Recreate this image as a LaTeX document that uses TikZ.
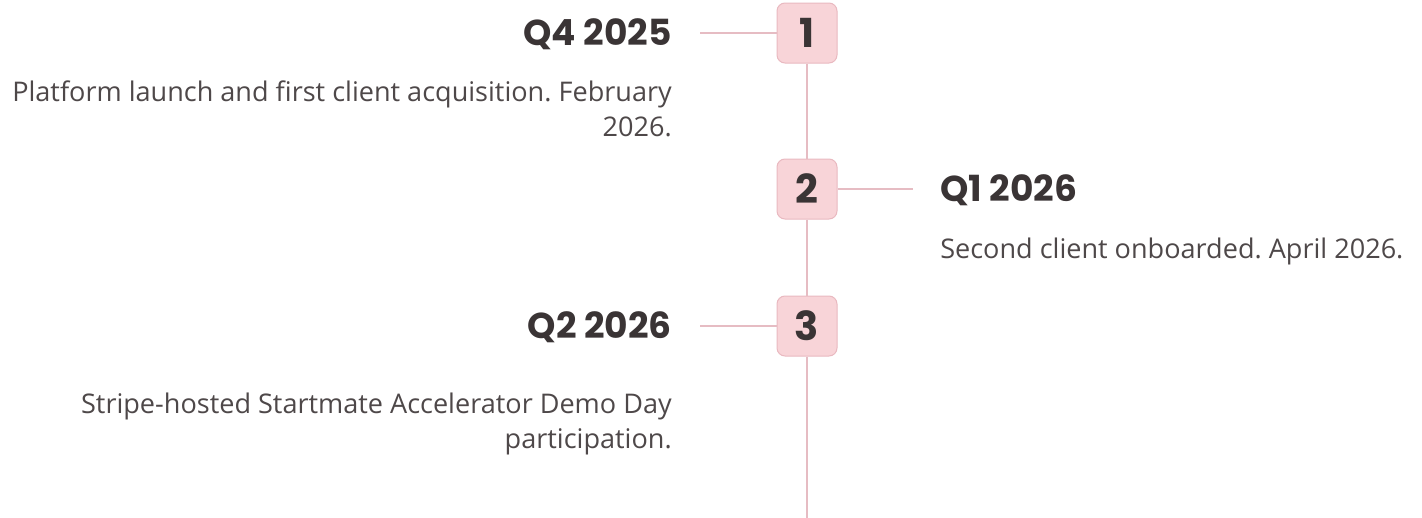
\documentclass[tikz,border=0pt]{standalone}
\usepackage{fontspec}
\setmainfont{Open Sans}[Ligatures=NoCommon]
\newfontfamily\headfont{Poppins}
\frenchspacing
\usetikzlibrary{positioning}

\definecolor{boxfill}{HTML}{F8D4D8}
\definecolor{boxline}{HTML}{E9B9C0}
\definecolor{spine}{HTML}{E6BCC3}
\definecolor{ink}{HTML}{3A3435}

\tikzset{
	stepbox/.style={draw=boxline, fill=boxfill, line width=0.75pt, rounded corners=6pt,
		minimum width=45pt, minimum height=45pt, inner sep=0pt,
		text=ink, font=\headfont\bfseries\fontsize{30}{30}\selectfont},
	link/.style={draw=spine, line width=2.2pt},
	headtext/.style={inner sep=0pt, text=ink, font=\headfont\bfseries\fontsize{27}{27}\selectfont},
	bodytext/.style={inner sep=0pt, text=ink!90, font=\fontsize{20.3}{26.25}\selectfont}
}

\begin{document}
\begin{tikzpicture}[x=0.75pt, y=-0.75pt]
		%%%%% START %%%%%
		\useasboundingbox (0, 0) rectangle (1422, 518);
		
		\node[stepbox] (b1) at (807, 33) {1};
		\node[stepbox] (b2) at (807, 189) {2};
		\node[stepbox] (b3) at (807, 326) {3};
		\coordinate (tail) at (807, 518);
		
		\node[headtext, anchor=base east] (h1) at (672, 45) {Q4 2025};
		\node[bodytext, anchor=base east, align=right] (d1) at (672, 136) {Platform launch and first client acquisition. February\\2026.};
		
		\node[headtext, anchor=base west] (h2) at (940, 201) {Q1 2026};
		\node[bodytext, anchor=base west, align=left] (d2) at (940, 258) {Second client onboarded. April 2026.};
		
		\node[headtext, anchor=base east] (h3) at (672, 338) {Q2 2026};
		\node[bodytext, anchor=base east, align=right] (d3) at (672, 448) {Stripe-hosted Startmate Accelerator Demo Day\\participation.};
		
		\coordinate (c1) at (700, 33);
		\coordinate (c2) at (913, 189);
		\coordinate (c3) at (700, 326);
		
		% spine
		\draw[link] (b1) -- (b2);
		\draw[link] (b2) -- (b3);
		\draw[link] (b3) -- (tail);
		
		% branches
		\draw[link] (b1) -- (c1);
		\draw[link] (b2) -- (c2);
		\draw[link] (b3) -- (c3);
		
		%%%%% END %%%%%
	\end{tikzpicture}
\end{document}
